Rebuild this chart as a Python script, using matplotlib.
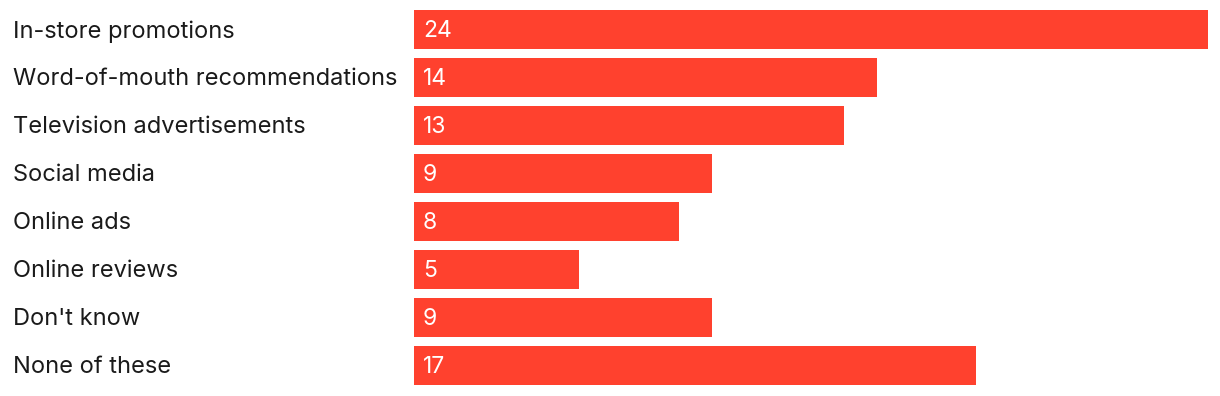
import matplotlib.pyplot as plt
from matplotlib.transforms import blended_transform_factory

categories = [
    "In-store promotions",
    "Word-of-mouth recommendations",
    "Television advertisements",
    "Social media",
    "Online ads",
    "Online reviews",
    "Don't know",
    "None of these",
]
values = [24, 14, 13, 9, 8, 5, 9, 17]

BAR = "#FF412E"

plt.rcParams["font.family"] = ["Inter", "DejaVu Sans"]

fig = plt.figure(figsize=(12.2, 3.96), dpi=100)
W, H = 1220, 396
ax = fig.add_axes([414 / W, (H - 385.4) / H, 794 / W, 375.4 / H])

ypos = list(range(len(categories)))
ax.barh(ypos, values, height=0.82, color=BAR, linewidth=0)
ax.set_xlim(0, 24)
ax.set_ylim(len(categories) - 1 + 0.41, -0.41)
ax.axis("off")

label_tf = blended_transform_factory(fig.transFigure, ax.transData)
for y, cat, v in zip(ypos, categories, values):
    ax.annotate(cat, (13 / W, y), xycoords=label_tf, xytext=(0, -1.2),
                textcoords="offset points", ha="left", va="center",
                fontsize=17, color="#1a1a1a")
    ax.annotate(str(v), (0, y), xytext=(6.5, -1.2), textcoords="offset points",
                ha="left", va="center", fontsize=16.5, color="white")

fig.savefig("out.png", dpi=100)
